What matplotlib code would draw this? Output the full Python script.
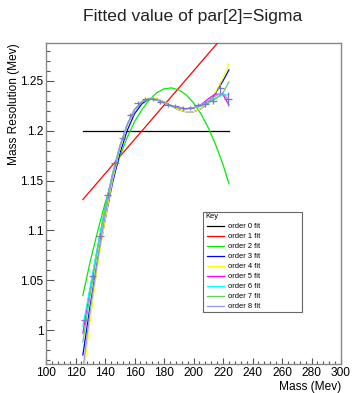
import matplotlib
matplotlib.use("Agg")
import matplotlib.pyplot as plt
from matplotlib.patches import Rectangle
from matplotlib.lines import Line2D
from matplotlib.ticker import MultipleLocator

plt.rcParams['font.family'] = ['Liberation Sans', 'DejaVu Sans']

# ---- data points (mass, fitted sigma, errors) ----
mass = [126.5, 131.6, 136.7, 141.8, 146.9, 152.0, 157.1, 162.2, 167.3, 172.4,
        177.5, 182.6, 187.7, 192.8, 197.9, 203.0, 208.1, 213.2, 218.3, 223.4]
sigma = [1.010, 1.054, 1.094, 1.136, 1.168, 1.193, 1.216, 1.228, 1.232, 1.232,
         1.229, 1.226, 1.225, 1.223, 1.223, 1.226, 1.227, 1.230, 1.243, 1.232]
sigma_err = [0.004, 0.004, 0.003, 0.003, 0.003, 0.002, 0.002, 0.002, 0.002, 0.002,
             0.002, 0.002, 0.002, 0.002, 0.002, 0.002, 0.003, 0.003, 0.005, 0.007]
mass_err = [2.5] * len(mass)

# ---- fit curves sampled along the mass axis ----
fit_mass = [125, 130, 135, 140, 145, 150, 155, 160, 165, 170, 175,
            180, 185, 190, 195, 200, 205, 210, 215, 220, 224]
fit0 = [1.2] * len(fit_mass)
fit1 = [1.131, 1.1396, 1.1482, 1.1568, 1.1654, 1.174, 1.1826, 1.1912, 1.1998, 1.2084, 1.217,
        1.2256, 1.2342, 1.2428, 1.2514, 1.26, 1.2686, 1.2772, 1.2858, 1.2944, 1.3013]
fit2 = [1.035, 1.069, 1.099, 1.127, 1.152, 1.174, 1.193, 1.209, 1.221, 1.231, 1.238,
        1.242, 1.243, 1.241, 1.236, 1.228, 1.217, 1.203, 1.186, 1.166, 1.147]
fit3 = [0.975, 1.025, 1.070, 1.110, 1.147, 1.177, 1.200, 1.217, 1.227, 1.232, 1.232,
        1.229, 1.225, 1.221, 1.219, 1.219, 1.222, 1.228, 1.238, 1.250, 1.261]
fit4 = [0.950, 1.010, 1.065, 1.110, 1.150, 1.181, 1.205, 1.221, 1.230, 1.233, 1.232,
        1.229, 1.225, 1.221, 1.219, 1.219, 1.222, 1.229, 1.239, 1.253, 1.267]
fit5 = [0.997, 1.042, 1.083, 1.122, 1.156, 1.184, 1.206, 1.221, 1.229, 1.232, 1.231,
        1.228, 1.225, 1.223, 1.222, 1.223, 1.226, 1.232, 1.237, 1.236, 1.226]
fit6 = [1.004, 1.044, 1.084, 1.122, 1.156, 1.184, 1.206, 1.221, 1.229, 1.232, 1.231,
        1.228, 1.225, 1.223, 1.222, 1.223, 1.225, 1.229, 1.233, 1.236, 1.236]
fit7 = [0.988, 1.036, 1.080, 1.120, 1.155, 1.184, 1.206, 1.221, 1.229, 1.232, 1.231,
        1.228, 1.225, 1.223, 1.222, 1.223, 1.225, 1.228, 1.232, 1.238, 1.249]
fit8 = [0.960, 1.020, 1.070, 1.115, 1.153, 1.183, 1.206, 1.221, 1.229, 1.232, 1.231,
        1.228, 1.225, 1.223, 1.222, 1.223, 1.226, 1.230, 1.235, 1.238, 1.230]

fits = [fit0, fit1, fit2, fit3, fit4, fit5, fit6, fit7, fit8]
labels = ["order %d fit" % i for i in range(9)]
colors = ['#000000', '#ff0000', '#00ee00', '#0000ff', '#ffff00',
          '#ff00ff', '#00ffff', '#59d454', '#9a98ee']

x_ticks = [100, 120, 140, 160, 180, 200, 220, 240, 260, 280, 300]
y_ticks = [1.0, 1.05, 1.1, 1.15, 1.2, 1.25]
y_tick_labels = ["1", "1.05", "1.1", "1.15", "1.2", "1.25"]

W, H = 352, 393
fig = plt.figure(figsize=(W / 100, H / 100), dpi=100)
ax = fig.add_axes([46 / W, 1 - 364 / H, 295 / W, 321 / H])

for yv, c in zip(fits, colors):
    ax.plot(fit_mass, yv, color=c, lw=0.9, zorder=3)

ax.errorbar(mass, sigma, xerr=mass_err, yerr=sigma_err, fmt='none',
            ecolor='#7a78c8', elinewidth=0.9, capsize=0, zorder=4)

ax.set_xlim(100, 300)
ax.set_ylim(0.966, 1.288)
ax.set_xticks(x_ticks)
ax.set_yticks(y_ticks)
ax.set_yticklabels(y_tick_labels)
ax.xaxis.set_minor_locator(MultipleLocator(4))
ax.yaxis.set_minor_locator(MultipleLocator(0.01))
ax.tick_params(axis='x', which='major', direction='in', length=4.5, width=0.8,
               color='#555555', labelsize=8.6, pad=2.5)
ax.tick_params(axis='x', which='minor', direction='in', length=2.2, width=0.8, color='#555555')
ax.tick_params(axis='y', which='major', direction='in', length=6, width=0.8,
               color='#555555', labelsize=8.6, pad=2)
ax.tick_params(axis='y', which='minor', direction='in', length=3, width=0.8, color='#555555')
for s in ax.spines.values():
    s.set_color('#888888')
    s.set_linewidth(1.0)

fig.text(193 / W, 1 - 16 / H, "Fitted value of par[2]=Sigma", ha='center', va='center',
         fontsize=12.6, color='#222222')
fig.text(341 / W, 1 - 387 / H, "Mass (Mev)", ha='right', va='center', fontsize=8.6)
fig.text(14 / W, 1 - 43 / H, "Mass Resolution (Mev)", ha='center', va='top',
         rotation=90, fontsize=8.6)

# ---- legend box ("Key") ----
def fx(px):
    return px / W

def fy(py):
    return 1 - py / H

fig.patches.append(Rectangle((fx(203), fy(312)), fx(302) - fx(203), fy(212) - fy(312),
                             transform=fig.transFigure, facecolor='white',
                             edgecolor='#666666', lw=0.8, zorder=5))
fig.text(fx(205), fy(216), "Key", fontsize=5.4, ha='left', va='center', zorder=6)
for i, (lab, c) in enumerate(zip(labels, colors)):
    yy = fy(226 + 10 * i)
    fig.lines.append(Line2D([fx(207), fx(224)], [yy, yy], color=c, lw=0.9,
                            transform=fig.transFigure, zorder=6))
    fig.text(fx(228), yy, lab, fontsize=5.4, ha='left', va='center', zorder=6)

fig.savefig("out.png", dpi=100)
